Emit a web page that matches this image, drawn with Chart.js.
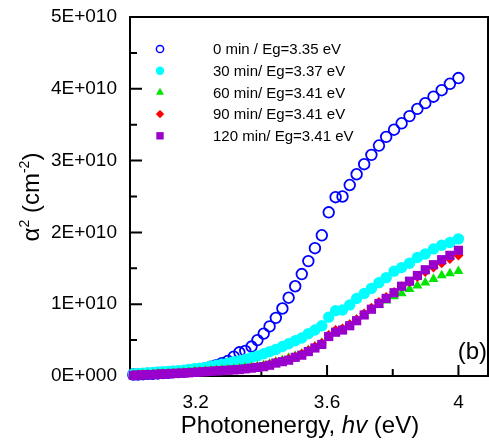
<!DOCTYPE html>
<html>
<head>
<meta charset="utf-8">
<script src="https://cdn.jsdelivr.net/npm/chart.js"></script>
<style>
  html, body { margin: 0; padding: 0; background: #fff; }
  #wrap { width: 489px; height: 441px; position: relative; }
</style>
</head>
<body>
<div id="wrap"><canvas id="c"></canvas></div>
<script>
// photon energy, eV
const energy = [3.010, 3.024, 3.039, 3.054, 3.069, 3.085, 3.100, 3.116, 3.131, 3.147,
                3.163, 3.179, 3.196, 3.212, 3.229, 3.246, 3.263, 3.280, 3.298, 3.316,
                3.333, 3.351, 3.370, 3.388, 3.407, 3.425, 3.444, 3.464, 3.483, 3.503,
                3.523, 3.543, 3.563, 3.584, 3.605, 3.626, 3.647, 3.669, 3.690, 3.713,
                3.735, 3.758, 3.780, 3.804, 3.827, 3.851, 3.875, 3.899, 3.924, 3.949,
                3.974, 4.000];

// alpha^2, in units of 1E+010 cm^-2
const min0 = [0.02, 0.02, 0.025, 0.03, 0.03, 0.035, 0.04, 0.045, 0.05, 0.055,
              0.06, 0.07, 0.08, 0.09, 0.11, 0.13, 0.15, 0.18, 0.21, 0.27,
              0.33, 0.35, 0.41, 0.50, 0.59, 0.69, 0.81, 0.94, 1.09, 1.25,
              1.42, 1.60, 1.78, 1.96, 2.28, 2.49, 2.50, 2.66, 2.81, 2.95,
              3.08, 3.21, 3.33, 3.43, 3.52, 3.62, 3.72, 3.80, 3.89, 3.98,
              4.07, 4.15];
const min30 = [0.03, 0.035, 0.04, 0.045, 0.05, 0.055, 0.06, 0.065, 0.07, 0.075,
               0.08, 0.09, 0.10, 0.11, 0.12, 0.135, 0.15, 0.165, 0.18, 0.20,
               0.21, 0.23, 0.26, 0.28, 0.31, 0.34, 0.37, 0.41, 0.45, 0.49,
               0.53, 0.59, 0.64, 0.70, 0.82, 0.91, 0.92, 0.99, 1.08, 1.15,
               1.22, 1.30, 1.37, 1.46, 1.51, 1.57, 1.65, 1.70, 1.77, 1.82,
               1.86, 1.91];
const min60 = [0.015, 0.017, 0.02, 0.022, 0.025, 0.03, 0.032, 0.035, 0.04, 0.045,
               0.05, 0.055, 0.06, 0.065, 0.07, 0.075, 0.08, 0.085, 0.09, 0.095,
               0.105, 0.115, 0.125, 0.135, 0.15, 0.17, 0.20, 0.22, 0.25, 0.28,
               0.31, 0.36, 0.41, 0.46, 0.56, 0.63, 0.64, 0.71, 0.78, 0.85,
               0.92, 0.99, 1.05, 1.11, 1.15, 1.21, 1.26, 1.30, 1.35, 1.40,
               1.43, 1.46];
const min90 = [0.015, 0.017, 0.02, 0.023, 0.025, 0.03, 0.033, 0.035, 0.04, 0.043,
               0.045, 0.05, 0.055, 0.06, 0.065, 0.07, 0.075, 0.08, 0.085, 0.09,
               0.095, 0.105, 0.115, 0.125, 0.14, 0.16, 0.19, 0.21, 0.24, 0.27,
               0.31, 0.36, 0.41, 0.46, 0.57, 0.64, 0.66, 0.72, 0.79, 0.87,
               0.95, 1.03, 1.10, 1.17, 1.25, 1.31, 1.38, 1.45, 1.51, 1.57,
               1.63, 1.68];
const min120 = [0.01, 0.012, 0.015, 0.018, 0.02, 0.025, 0.028, 0.03, 0.035, 0.038,
                0.04, 0.045, 0.05, 0.055, 0.06, 0.065, 0.07, 0.075, 0.08, 0.085,
                0.09, 0.10, 0.11, 0.12, 0.13, 0.15, 0.18, 0.20, 0.22, 0.26,
                0.29, 0.34, 0.39, 0.44, 0.55, 0.61, 0.64, 0.70, 0.77, 0.85,
                0.93, 1.01, 1.08, 1.16, 1.25, 1.32, 1.40, 1.48, 1.55, 1.62,
                1.68, 1.75];

const seriesLabels = ['0 min / Eg=3.35 eV', '30 min/ Eg=3.37 eV', '60 min/ Eg=3.41 eV',
                      '90 min/ Eg=3.41 eV', '120 min/ Eg=3.41 eV'];

const xTickValues = [3.2, 3.6, 4.0];
const xTickLabels = ['3.2', '3.6', '4'];
const xMinorTicks = [3.4, 3.8];
const yTickValues = [0, 1, 2, 3, 4, 5];
const yTickLabels = ['0E+000', '1E+010', '2E+010', '3E+010', '4E+010', '5E+010'];
const yMinorTicks = [0.5, 1.5, 2.5, 3.5, 4.5];

const FONT = "'Liberation Sans', Arial, sans-serif";

function pts(ys){
  return energy.map((x, i) => ({x, y: ys[i]}));
}

const styles = [
  {pointStyle: 'circle',   pointRadius: 5.3, backgroundColor: 'rgba(0,0,0,0)', borderColor: '#0000ff', borderWidth: 1.8, lr: 3.6},
  {pointStyle: 'circle',   pointRadius: 5.7, backgroundColor: '#00ffff', borderColor: '#00ffff', borderWidth: 0, lr: 4.2},
  {pointStyle: 'triangle', pointRadius: 5.7, backgroundColor: '#00e600', borderColor: '#00e600', borderWidth: 0, lr: 4.6},
  {pointStyle: 'rectRot',  pointRadius: 5,   backgroundColor: '#ff0000', borderColor: '#ff0000', borderWidth: 0, lr: 4.2},
  {pointStyle: 'rect',     pointRadius: 6.5, backgroundColor: '#9900cc', borderColor: '#9900cc', borderWidth: 0, lr: 5.2}
];

const seriesData = [min0, min30, min60, min90, min120];

const datasets = seriesData.map((ys, i) => ({
  label: seriesLabels[i],
  data: pts(ys),
  pointStyle: styles[i].pointStyle,
  pointRadius: styles[i].pointRadius,
  pointBackgroundColor: styles[i].backgroundColor,
  pointBorderColor: styles[i].borderColor,
  pointBorderWidth: styles[i].borderWidth,
  showLine: false,
  clip: false,
  order: 5 - i   // later series drawn on top
}));

function marker(ctx, style, x, y, r, fill, stroke, lw){
  ctx.beginPath();
  if(style === 'circle'){
    ctx.arc(x, y, r, 0, Math.PI * 2);
  } else if(style === 'triangle'){
    ctx.moveTo(x, y - r);
    ctx.lineTo(x + r * 0.866, y + r * 0.5);
    ctx.lineTo(x - r * 0.866, y + r * 0.5);
    ctx.closePath();
  } else if(style === 'rectRot'){
    ctx.moveTo(x, y - r); ctx.lineTo(x + r, y); ctx.lineTo(x, y + r); ctx.lineTo(x - r, y);
    ctx.closePath();
  } else {
    const h = r * Math.SQRT1_2;
    ctx.rect(x - h, y - h, 2 * h, 2 * h);
  }
  if(lw > 0){
    ctx.lineWidth = lw; ctx.strokeStyle = stroke; ctx.stroke();
  } else {
    ctx.fillStyle = fill; ctx.fill();
  }
}

function drawParts(ctx, parts, cx, baseY){
  let w = 0;
  for(const p of parts){ ctx.font = p.font; w += ctx.measureText(p.t).width; }
  let x = cx - w / 2;
  for(const p of parts){
    ctx.font = p.font;
    ctx.fillText(p.t, x, baseY + (p.dy || 0));
    x += ctx.measureText(p.t).width;
  }
}

// the library reserves room for label overhang; this layout does not need it
function noOverhang(s){
  s.paddingTop = 0; s.paddingBottom = 0; s.paddingLeft = 0; s.paddingRight = 0;
}

const decor = {
  id: 'decor',
  beforeDatasetsDraw(chart){
    const {ctx, chartArea: a, scales: {x, y}} = chart;
    ctx.save();
    ctx.strokeStyle = '#000';
    ctx.lineWidth = 2;
    ctx.beginPath();
    // frame
    ctx.moveTo(a.left, a.top); ctx.lineTo(a.right, a.top);
    ctx.lineTo(a.right, a.bottom); ctx.lineTo(a.left, a.bottom); ctx.closePath();
    // inward ticks
    xTickValues.forEach(v => { const p = x.getPixelForValue(v); ctx.moveTo(p, a.bottom); ctx.lineTo(p, a.bottom - 11); });
    xMinorTicks.forEach(v => { const p = x.getPixelForValue(v); ctx.moveTo(p, a.bottom); ctx.lineTo(p, a.bottom - 7); });
    yTickValues.forEach(v => { const p = y.getPixelForValue(v); ctx.moveTo(a.left, p); ctx.lineTo(a.left + 12, p); });
    yMinorTicks.forEach(v => { const p = y.getPixelForValue(v); ctx.moveTo(a.left, p); ctx.lineTo(a.left + 7, p); });
    ctx.stroke();
    ctx.restore();
  },
  afterDraw(chart){
    const {ctx} = chart;
    ctx.save();
    ctx.fillStyle = '#000';

    // legend
    ctx.font = `15px ${FONT}`;
    ctx.textBaseline = 'middle';
    ctx.textAlign = 'left';
    seriesLabels.forEach((lab, i) => {
      const ly = 49 + i * 21.7;
      const s = styles[i];
      marker(ctx, s.pointStyle, 160, ly, s.lr, s.backgroundColor, s.borderColor, s.borderWidth ? 1.5 : 0);
      ctx.fillStyle = '#000';
      ctx.fillText(lab, 213, ly + 1);
    });

    // panel label
    ctx.textBaseline = 'alphabetic';
    ctx.textAlign = 'right';
    ctx.font = `24px ${FONT}`;
    ctx.fillText('(b)', 487, 359);

    // x title
    ctx.textAlign = 'left';
    drawParts(ctx, [
      {t: 'Photonenergy, ', font: `24px ${FONT}`},
      {t: 'hv', font: `italic 24px ${FONT}`},
      {t: ' (eV)', font: `24px ${FONT}`}
    ], 300, 433);

    // y title
    ctx.translate(39, 197);
    ctx.rotate(-Math.PI / 2);
    drawParts(ctx, [
      {t: 'α', font: `24px ${FONT}`},
      {t: '2', font: `14px ${FONT}`, dy: -10},
      {t: ' (cm', font: `24px ${FONT}`},
      {t: '-2', font: `14px ${FONT}`, dy: -10},
      {t: ')', font: `24px ${FONT}`}
    ], 0, 0);
    ctx.restore();
  }
};

new Chart(document.getElementById('c'), {
  type: 'scatter',
  data: {datasets},
  options: {
    responsive: true,
    maintainAspectRatio: false,
    animation: false,
    events: [],
    devicePixelRatio: 1,
    layout: {autoPadding: false, padding: {top: 17, right: 1, left: 0, bottom: 0}},
    plugins: {legend: {display: false}, tooltip: {enabled: false}},
    scales: {
      x: {
        type: 'linear', min: 3.0, max: 4.09,
        grid: {display: false, drawTicks: false},
        border: {display: false},
        afterBuildTicks: s => { s.ticks = xTickValues.map(v => ({value: v})); },
        afterFit: s => { s.height = 65; noOverhang(s); },
        ticks: {
          padding: 15, color: '#000', maxRotation: 0, autoSkip: false,
          font: {family: FONT, size: 19},
          callback: (v, i) => xTickLabels[i]
        }
      },
      y: {
        min: 0, max: 5,
        grid: {display: false, drawTicks: false},
        border: {display: false},
        afterBuildTicks: s => { s.ticks = yTickValues.map(v => ({value: v})); },
        afterFit: s => { s.width = 130; noOverhang(s); },
        ticks: {
          padding: 13, color: '#000', autoSkip: false,
          font: {family: FONT, size: 19},
          callback: (v, i) => yTickLabels[i]
        }
      }
    }
  },
  plugins: [decor]
});
</script>
</body>
</html>
